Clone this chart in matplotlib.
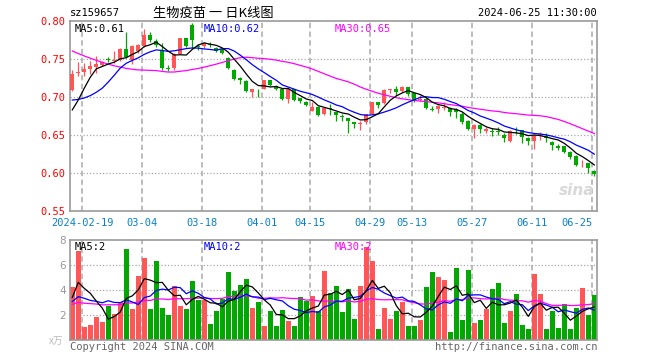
import numpy as np
import pandas as pd
import matplotlib
matplotlib.use("Agg")
import matplotlib.pyplot as plt

# daily candles, 88 trading days (2024-02-07 .. 2024-06-25)
opens = [0.709, 0.732, 0.733, 0.737, 0.740, 0.742, 0.750, 0.748, 0.749, 0.763,
         0.749, 0.760, 0.767, 0.782, 0.774, 0.762, 0.738, 0.738, 0.757, 0.777,
         0.795, 0.767, 0.767, 0.770, 0.7645, 0.763, 0.751, 0.736, 0.725, 0.721,
         0.707, 0.711, 0.711, 0.722, 0.715, 0.710, 0.697, 0.710, 0.699, 0.694,
         0.682, 0.687, 0.678, 0.685, 0.680, 0.675, 0.672, 0.667, 0.665, 0.667,
         0.678, 0.693, 0.692, 0.709, 0.710, 0.708, 0.713, 0.705, 0.696, 0.697,
         0.684, 0.684, 0.686, 0.686, 0.684, 0.677, 0.668, 0.658, 0.663, 0.655,
         0.655, 0.655, 0.650, 0.642, 0.6555, 0.657, 0.646, 0.642, 0.650, 0.649,
         0.641, 0.636, 0.635, 0.628, 0.622, 0.614, 0.613, 0.602]
closes = [0.730, 0.733, 0.737, 0.741, 0.744, 0.746, 0.749, 0.749, 0.763, 0.752,
          0.767, 0.768, 0.782, 0.775, 0.769, 0.738, 0.737, 0.757, 0.777, 0.767,
          0.775, 0.766, 0.771, 0.768, 0.760, 0.758, 0.738, 0.724, 0.723, 0.708,
          0.710, 0.710, 0.722, 0.716, 0.711, 0.697, 0.710, 0.696, 0.695, 0.689,
          0.687, 0.676, 0.685, 0.684, 0.676, 0.674, 0.669, 0.664, 0.666, 0.678,
          0.693, 0.689, 0.709, 0.710, 0.706, 0.713, 0.704, 0.695, 0.698, 0.686,
          0.683, 0.688, 0.687, 0.680, 0.680, 0.667, 0.658, 0.663, 0.658, 0.658,
          0.654, 0.654, 0.646, 0.655, 0.655, 0.648, 0.642, 0.650, 0.651, 0.646,
          0.637, 0.633, 0.628, 0.621, 0.611, 0.615, 0.607, 0.599]
highs = [0.736, 0.746, 0.745, 0.748, 0.754, 0.748, 0.752, 0.760, 0.764, 0.786,
         0.768, 0.770, 0.790, 0.786, 0.776, 0.771, 0.742, 0.758, 0.778, 0.777,
         0.798, 0.770, 0.773, 0.772, 0.766, 0.764, 0.752, 0.737, 0.726, 0.722,
         0.711, 0.711, 0.723, 0.723, 0.716, 0.711, 0.711, 0.710, 0.699, 0.695,
         0.694, 0.688, 0.686, 0.691, 0.680, 0.678, 0.673, 0.667, 0.668, 0.678,
         0.694, 0.694, 0.710, 0.710, 0.714, 0.715, 0.713, 0.705, 0.702, 0.700,
         0.688, 0.689, 0.693, 0.687, 0.685, 0.680, 0.670, 0.664, 0.665, 0.661,
         0.659, 0.660, 0.652, 0.656, 0.661, 0.657, 0.647, 0.650, 0.654, 0.652,
         0.642, 0.638, 0.636, 0.629, 0.624, 0.617, 0.613, 0.604]
lows = [0.708, 0.727, 0.728, 0.730, 0.731, 0.741, 0.746, 0.745, 0.748, 0.751,
        0.744, 0.758, 0.766, 0.773, 0.766, 0.736, 0.734, 0.736, 0.756, 0.766,
        0.764, 0.762, 0.764, 0.766, 0.759, 0.756, 0.737, 0.722, 0.717, 0.707,
        0.700, 0.700, 0.710, 0.714, 0.709, 0.696, 0.692, 0.695, 0.692, 0.688,
        0.681, 0.675, 0.676, 0.676, 0.668, 0.669, 0.653, 0.659, 0.657, 0.665,
        0.677, 0.685, 0.691, 0.705, 0.701, 0.706, 0.701, 0.694, 0.695, 0.684,
        0.681, 0.679, 0.683, 0.675, 0.673, 0.665, 0.656, 0.646, 0.652, 0.653,
        0.649, 0.650, 0.641, 0.641, 0.651, 0.640, 0.637, 0.632, 0.644, 0.641,
        0.630, 0.630, 0.626, 0.619, 0.609, 0.608, 0.600, 0.596]
# volume, 万
volumes = [4.27, 7.12, 1.07, 1.23, 1.87, 1.47, 2.72, 2.08, 3.07, 7.31,
           2.48, 5.12, 6.56, 2.48, 6.32, 2.56, 2.00, 4.32, 2.72, 2.48,
           4.72, 3.20, 3.20, 1.28, 2.32, 3.28, 5.44, 3.92, 4.40, 4.91,
           2.56, 3.04, 1.15, 2.32, 1.15, 2.40, 1.52, 1.15, 3.44, 3.15,
           3.52, 2.32, 5.55, 3.76, 4.32, 2.24, 4.08, 1.68, 4.32, 7.44,
           6.32, 0.88, 2.56, 1.68, 2.32, 3.04, 1.12, 1.12, 1.60, 4.24,
           5.44, 5.04, 4.83, 0.64, 5.76, 1.60, 5.60, 1.36, 1.60, 2.48,
           4.08, 4.56, 1.36, 2.32, 3.68, 1.20, 0.88, 5.28, 3.68, 0.88,
           2.32, 0.96, 2.88, 0.88, 2.56, 4.16, 2.00, 3.60]
# sessions before the window (estimated from where the MA lines start)
pre_close = [0.835, 0.832, 0.828, 0.830, 0.825, 0.820, 0.815, 0.812, 0.805, 0.800,
             0.795, 0.790, 0.785, 0.778, 0.770, 0.762, 0.755, 0.748, 0.740, 0.732,
             0.725, 0.718, 0.710, 0.700, 0.692, 0.668, 0.659, 0.669, 0.689]
pre_vol = [2.5, 3.1, 2.2, 2.9, 3.4, 2.6, 2.0, 2.8, 3.3, 2.4,
           2.7, 3.0, 2.3, 2.9, 2.6, 3.2, 2.5, 2.8, 2.4, 3.4,
           3.12, 2.4, 2.9, 2.6, 2.68, 1.07, 3.46, 3.2, 5.0]

tick_idx = [2, 12, 22, 32, 40, 50, 57, 67, 77, 87]
tick_labels = ['2024-02-19', '03-04', '03-18', '04-01', '04-15',
               '04-29', '05-13', '05-27', '06-11', '06-25']

RED = '#ff5656'
GREEN = '#00a800'
GRID = '#aaaaaa'
MONO = 'DejaVu Sans Mono'
CJK = ['Noto Sans CJK SC', 'DejaVu Sans']

n = len(closes)
x = np.arange(n)
o = np.array(opens); c = np.array(closes)
h = np.array(highs); l = np.array(lows)
up = c >= o
colors = np.where(up, RED, GREEN)

cs = pd.Series(pre_close + closes)
vs = pd.Series(pre_vol + volumes)
npre = len(pre_close)
ma = {k: cs.rolling(k).mean().values[npre:] for k in (5, 10, 30)}
vma = {k: vs.rolling(k).mean().values[npre:] for k in (5, 10, 30)}
ma_colors = {5: 'black', 10: '#0000ff', 30: '#ff00ff'}

W, H = 660, 360
fig = plt.figure(figsize=(6.6, 3.6), dpi=100)
fig.patch.set_facecolor('white')

def px_axes(left, top, right, bottom):
    return fig.add_axes([left / W, 1 - bottom / H, (right - left) / W, (bottom - top) / H])

ax = px_axes(70, 21, 597, 211)
axv = px_axes(70, 240, 597, 340)
xlim = (-0.38, 87.45)

for a in (ax, axv):
    a.set_xlim(*xlim)
    for s in a.spines.values():
        s.set_color('#999999')
        s.set_linewidth(1.2)
    a.tick_params(length=0)
    for t in tick_idx:
        a.axvline(t - 0.33, color=GRID, lw=1.1, dashes=(3.5, 2.2), zorder=0)

# price panel
ax.set_ylim(0.55, 0.80)
for yv in (0.60, 0.65, 0.70, 0.75):
    ax.axhline(yv, color=GRID, lw=0.9, linestyle=(0, (1, 1.6)), zorder=0)
ax.vlines(x, l, h, colors=colors, lw=0.9, zorder=2)
body = np.maximum(np.abs(c - o), 0.0007)
ax.bar(x, body, bottom=np.minimum(o, c), width=0.72, color=colors, lw=0, zorder=3)
for k in (30, 10, 5):
    ax.plot(x, ma[k], color=ma_colors[k], lw=0.9, zorder=4)
ax.set_yticks([0.55, 0.60, 0.65, 0.70, 0.75, 0.80])
ax.set_yticklabels(['%.2f' % v for v in ax.get_yticks()], color='#ff0000',
                   family=MONO, fontsize=7.5)
ax.tick_params(axis='y', pad=3)
ax.set_xticks([t - 0.33 for t in tick_idx])
ax.set_xticklabels(tick_labels, color='#0a80d0', family=MONO, fontsize=7.5)
ax.tick_params(axis='x', pad=5)
ax.get_xticklabels()[-1].set_ha('right')
ax.text(0.008, 0.985, 'MA5:%.2f' % ma[5][-1], transform=ax.transAxes, va='top',
        family=MONO, fontsize=7.5, color='black')
ax.text(0.254, 0.985, 'MA10:%.2f' % ma[10][-1], transform=ax.transAxes, va='top',
        family=MONO, fontsize=7.5, color='#0000ff')
ax.text(0.502, 0.985, 'MA30:%.2f' % ma[30][-1], transform=ax.transAxes, va='top',
        family=MONO, fontsize=7.5, color='#ff00ff')
ax.text(0.995, 0.07, 'sina', transform=ax.transAxes, ha='right', va='bottom',
        fontsize=11, fontweight='bold', style='italic', color='#d8d8d8', zorder=1)

# volume panel
axv.set_ylim(0, 8)
for yv in (2, 4, 6):
    axv.axhline(yv, color=GRID, lw=0.9, linestyle=(0, (1, 1.6)), zorder=0)
axv.bar(x, volumes, width=0.78, color=colors, lw=0, zorder=2)
for k in (30, 10, 5):
    axv.plot(x, vma[k], color=ma_colors[k], lw=0.9, zorder=4)
axv.set_yticks([2, 4, 6, 8])
axv.set_yticklabels(['2', '4', '6', '8'], color='#999999', fontsize=7.5)
axv.tick_params(axis='y', pad=3)
axv.set_xticks([])
axv.text(0.008, 0.985, 'MA5:%d' % int(vma[5][-1]), transform=axv.transAxes, va='top',
         family=MONO, fontsize=7.5, color='black')
axv.text(0.254, 0.985, 'MA10:%d' % int(vma[10][-1]), transform=axv.transAxes, va='top',
         family=MONO, fontsize=7.5, color='#0000ff')
axv.text(0.502, 0.985, 'MA30:%d' % int(vma[30][-1]), transform=axv.transAxes, va='top',
         family=MONO, fontsize=7.5, color='#ff00ff')

# header and footer
fig.text(70 / W, 1 - 13.5 / H, 'sz159657', family=MONO, fontsize=7.5, va='center')
fig.text(213 / W, 1 - 13 / H, '生物疫苗 一 日K线图', family=CJK, fontsize=9.5,
         ha='center', va='center')
fig.text(597 / W, 1 - 13.5 / H, '2024-06-25 11:30:00', family=MONO, fontsize=7.5,
         ha='right', va='center')
fig.text(63 / W, 1 - 341 / H, 'x万', family=CJK, fontsize=7, color='#bbbbbb',
         ha='right', va='center', style='italic')
fig.text(70 / W, 1 - 347 / H, 'Copyright 2024 SINA.COM', family=MONO, fontsize=7.5,
         color='#666666', va='center')
fig.text(597 / W, 1 - 347 / H, 'http://finance.sina.com.cn', family=MONO, fontsize=7.5,
         color='#666666', ha='right', va='center')

fig.savefig('out.png', dpi=100, facecolor='white')
